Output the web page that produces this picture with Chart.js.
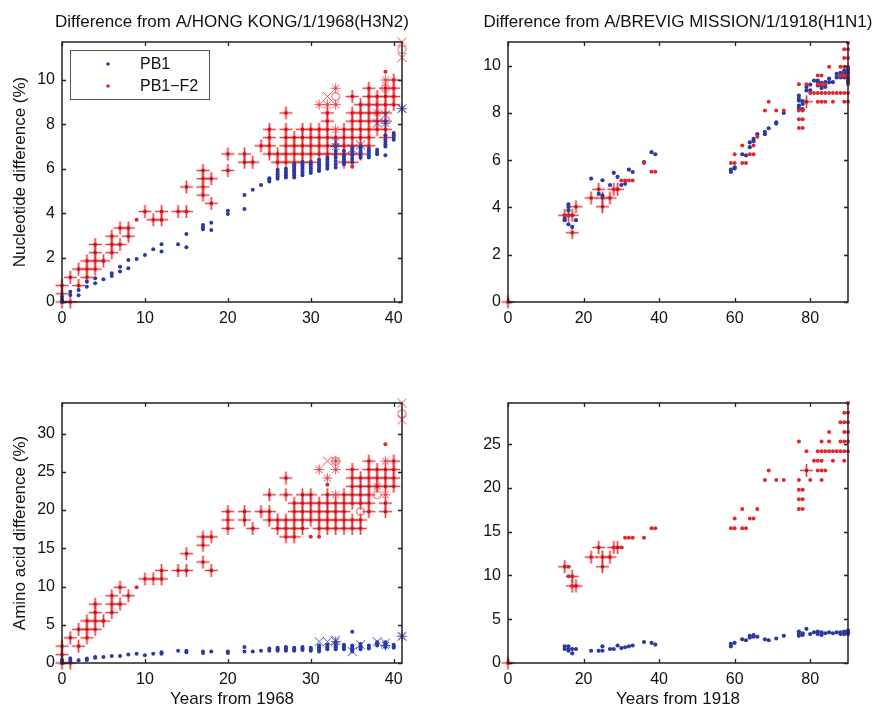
<!DOCTYPE html>
<html><head><meta charset="utf-8">
<script src="https://cdn.jsdelivr.net/npm/chart.js@4.4.1/dist/chart.umd.min.js"></script>
<style>
html,body{margin:0;padding:0;background:#fff;width:880px;height:707px;overflow:hidden;position:relative;}
canvas{position:absolute;}
</style></head><body>
<canvas id="ca" width="440" height="340" style="left:0;top:0"></canvas>
<canvas id="cb" width="440" height="340" style="left:440px;top:0"></canvas>
<canvas id="cc" width="440" height="360" style="left:0;top:360px"></canvas>
<canvas id="cd" width="440" height="360" style="left:440px;top:360px"></canvas>
<script>
// ---------- tick labels ----------
const ticksYears1968 = [0,10,20,30,40];
const ticksYears1918 = [0,20,40,60,80];
const ticksNt = [0,2,4,6,8,10];
const ticksAaH3 = [0,5,10,15,20,25,30];
const ticksAaH1 = [0,5,10,15,20,25];
const legendLabels = ['PB1','PB1\u2212F2'];

// ---------- Panel A: nucleotide, H3N2 ----------
const ntH3_PB1 = [
 [0,[0,0.1,0.24]],[1,[0.31,0.46]],[2,[0.3,0.54]],[3,[0.69,0.92]],[4,[0.84,1.07]],[5,[1.02]],
 [6,[1.17,1.29]],[7,[1.37,1.59]],[8,[1.52,1.89]],[9,[1.94]],[10,[2.12]],[11,[2.37]],
 [12,[2.27,2.6]],[14,[2.6]],[15,[2.46,3.06]],[17,[3.27,3.36,3.47]],[18,[3.24,3.57]],
 [20,[3.96,4.11]],[22,[4.19,4.82]],[23,[5.05]],[24,[5.27]],[25,[5.42,5.5,5.57]],
 [26,[5.55,5.65,5.75,5.85,5.95]],[27,[5.6,5.7,5.8,5.9,6.0]],[28,[5.6,5.7,5.8,5.9,6.0,6.1,6.2]],
 [29,[5.7,5.8,5.9,6.0,6.1,6.2,6.3]],[30,[5.8,5.9,6.0,6.1,6.2,6.3]],[31,[5.9,6.0,6.1,6.2,6.3,6.4]],
 [32,[6.0,6.1,6.2,6.3,6.4,6.5]],[33,[6.05,6.2,6.35,6.5,6.65,6.8]],[34,[6.2,6.3,6.4,6.5,6.6,6.8]],
 [35,[6.3,6.45,6.6,6.75,6.9]],[36,[6.5,6.6,6.7,6.8,6.9,7.0]],[37,[6.5,6.6,6.7,6.8,6.9]],
 [38,[6.65,6.75,6.85]],[39,[6.6,7.0,7.1,7.2,7.3,7.5]],[40,[7.3,7.4,7.5,7.6]]
];
const ntH3_F2 = [
 [0,[0,0.37,0.74]],[1,[0,1.11]],[2,[0.74,1.48]],[3,[1.11,1.48,1.85]],[4,[1.48,1.85,2.22,2.59]],[5,[1.85]],
 [6,[2.22,2.59,2.96]],[7,[2.59,3.33]],[8,[2.96,3.33]],[10,[4.07]],[11,[3.70]],[12,[3.70,4.07]],[14,[4.07]],
 [15,[4.07,5.18]],[17,[4.81,5.18,5.55,5.92]],[18,[4.44,5.55]],[20,[5.92,6.66]],[22,[6.29,6.66]],[23,[6.29]],
 [24,[7.03]],[25,[6.66,7.03,7.40,7.77]],[26,[6.29,6.66]],[27,[6.29,6.66,7.03,7.40,7.77,8.51]],
 [28,[6.29,6.66,7.03,7.40]],[29,[6.29,6.66,7.03,7.40,7.77]],[30,[6.29,6.66,7.03,7.40,7.77]],
 [31,[6.66,7.03,7.40,7.77]],[32,[6.66,7.03,7.40,7.77,8.14,8.51]],[33,[6.66,7.03,7.40]],
 [34,[6.29,6.66,7.03,7.40,7.77]],[35,[6.29,6.66,7.03,7.40,7.77,8.14,8.51,9.25]],
 [36,[6.66,7.03,7.40,7.77,8.14,8.51,8.88]],[37,[7.03,7.40,7.77,8.14,8.51,8.88,9.25,9.62]],
 [38,[7.77,8.14,8.51,8.88,9.25]],[39,[7.40,7.77,8.14,8.51,8.88,9.25,9.62]],[40,[8.88,9.25,9.62,9.99]]
];
const ntH3_F2dots = [[9,3.70],[28,5.92],[31,5.92],[39,10.36],[35,6.1]];
const ntH3_F2stars = [[31,8.88],[32,8.88],[33,8.88],[33,9.62],[33,7.77],[39,9.99],[38,8.51]];
const ntH3_F2x = [[32,9.25],[41,11.70],[41,11.0]];
const ntH3_F2o = [[33,9.25],[39,9.62],[41,11.36]];
const ntH3_PB1x = [[33,7.2],[35,6.9],[36,7.07],[38,8.05],[39,8.42],[41,8.7]];
const ntH3_PB1stars = [[39,8.05],[41,8.7],[33,7.0]];

// ---------- Panel B: nucleotide, H1N1 ----------
const ntH1_PB1 = [
 [15,[3.53,3.46]],[16,[4.13,4.02,3.88,3.29]],[17,[3.18]],[18,[3.46]],[22,[5.22]],[24,[4.58]],
 [25,[5.15,4.5]],[27,[4.95]],[28,[5.46]],[29,[5.29]],[30,[4.95]],[31,[5.0]],[32,[5.6]],[33,[5.5]],
 [36,[5.92]],[38,[6.34]],[39,[6.25]],[59,[5.5,5.6]],[60,[5.7,5.65]],[62,[6.25]],[63,[6.2]],
 [64,[6.55,6.75]],[65,[6.9,6.8]],[66,[7.1]],[68,[7.2,7.1]],[69,[7.35]],[71,[7.6,7.55]],[73,[8.0]],
 [77,[8.73,8.6,8.52,8.31,8.2]],[78,[8.38,8.16,8.5]],[79,[8.95,9.1]],[80,[8.95,9.2]],[81,[9.37]],
 [82,[9.16,9.37,9.3]],[83,[9.05,9.27,9.15]],[84,[9.1,9.3]],[85,[9.3,9.45]],[86,[9.3]],[87,[9.65,9.5]],
 [88,[9.5,9.7,9.6]],[89,[9.7,9.5,9.8,9.6]],[90,[9.8,9.6,9.3,9.5,9.7,9.9,9.4]]
];
const ntH1_F2plus = [[0,0],[15,3.67],[16,3.67],[17,3.67],[18,4.03],[17,2.93],[22,4.40],[24,4.77],[25,4.40],[25,4.03],[27,4.40],[28,4.77],[29,4.77],[79,8.47]];
const ntH1_F2 = [
 [30,[5.14]],[31,[5.14]],[32,[5.14]],[33,[5.14]],[36,[5.88]],[38,[5.51]],[39,[5.51]],
 [59,[5.88]],[60,[5.88,6.25]],[62,[6.62,5.88]],[63,[5.88]],[64,[6.25]],[65,[6.25,6.62]],[66,[6.99]],
 [68,[8.10]],[69,[8.47]],[71,[8.10]],[73,[8.10]],[77,[9.21,8.10,7.73,7.36]],[78,[8.10,7.73,7.36]],
 [79,[9.21]],[80,[8.84]],[81,[8.84]],[82,[8.47,8.84,9.21,9.58]],[83,[8.47,8.84,9.21,9.58]],
 [84,[8.47,8.84,9.21]],[85,[8.84,9.95]],[86,[8.47,8.84]],[87,[8.84]],[88,[8.84,9.58,9.95]],
 [89,[8.47,8.84,9.58,9.95,10.32,10.69]],[90,[8.47,8.84,9.21,9.58,9.95,10.32,10.69,10.96]]
];

// ---------- Panel C: amino acid, H3N2 ----------
const aaH3_PB1 = [
 [0,[0,0.1,0.4]],[1,[0.3,0.6]],[2,[0.35]],[3,[0.4,0.6]],[4,[0.7,0.8]],[5,[0.8]],[6,[0.9]],[7,[0.9]],
 [8,[1.1]],[9,[1.2]],[10,[1.0]],[11,[1.2]],[12,[1.2,1.4]],[14,[1.6]],[15,[1.4,1.6]],[17,[1.3,1.5]],
 [18,[1.5]],[20,[1.3,1.5]],[22,[1.5,2.1]],[23,[1.5]],[24,[1.6]],[25,[1.6,1.9]],[26,[1.6,1.8,2.0]],
 [27,[1.6,1.8,2.0,2.1]],[28,[1.6,1.8,2.0]],[29,[1.7,1.9,2.1]],[30,[1.6,1.8,2.0]],[31,[1.5,1.7,1.9,2.1,2.3]],
 [32,[1.8,2.0,2.2,2.4]],[33,[1.8,2.0,2.2,2.4,2.6]],[34,[1.8,2.0,2.2,2.4]],[35,[1.5,1.7,1.9,2.1,2.3,4.1]],
 [36,[1.8,2.0,2.2,2.5]],[37,[1.9,2.1,2.3]],[38,[2.3,2.5,2.7]],[39,[2.1,2.3,2.5,2.7]],[40,[2.0,2.2,2.4]]
];
const aaH3_F2 = [
 [0,[0,1.1,2.2]],[1,[0,3.3]],[2,[2.2,4.4]],[3,[3.3,4.4,5.5]],[4,[4.4,5.5,6.6,7.7]],[5,[5.5]],
 [6,[6.6,7.7,8.8]],[7,[7.7,9.9]],[8,[8.8]],[10,[11.0]],[11,[11.0]],[12,[11.0,12.1]],[14,[12.1]],
 [15,[12.1,14.3]],[17,[13.2,15.4,16.5]],[18,[12.1,16.5]],[20,[17.6,18.7,19.8]],[22,[18.7,19.8]],
 [23,[17.6]],[24,[19.8]],[25,[18.7,19.8,22.0]],[26,[17.6,18.7]],[27,[16.5,17.6,18.7,22.0,24.2]],
 [28,[16.5,17.6,18.7,19.8,20.9]],[29,[17.6,18.7,19.8,20.9,22.0]],[30,[18.7,19.8,20.9,22.0]],
 [31,[17.6,18.7,19.8,20.9]],[32,[17.6,18.7,19.8,20.9,22.0]],[33,[17.6,18.7,19.8,20.9]],
 [34,[17.6,18.7,19.8,20.9,22.0]],[35,[17.6,18.7,20.9,22.0,23.1,24.2,25.3]],
 [36,[17.6,18.7,20.9,22.0,23.1,24.2]],[37,[19.8,20.9,22.0,23.1,24.2,25.3,26.4]],
 [38,[23.1,24.2,25.3]],[39,[19.8,20.9,23.1,24.2,25.3]],[40,[23.1,24.2,25.3,26.4]]
];
const aaH3_F2dots = [[9,9.9],[30,16.5],[31,16.5],[32,23.3],[39,28.6]];
const aaH3_F2stars = [[31,25.3],[32,24.2],[33,26.4],[33,25.3],[33,22.0],[38,23.1],[39,26.4],[39,22.0]];
const aaH3_F2x = [[32,26.4],[41,34.0],[41,31.8]];
const aaH3_F2o = [[33,26.4],[36,19.8],[38,22.0],[41,32.6]];
const aaH3_PB1x = [[31,2.8],[32,2.8],[33,3.0],[35,1.5],[36,2.4],[38,2.8],[39,2.6],[41,3.5]];
const aaH3_PB1stars = [[33,2.8],[41,3.5],[39,2.3]];

// ---------- Panel D: amino acid, H1N1 ----------
const aaH1_PB1 = [
 [15,[1.9,1.6]],[16,[1.9,1.6,1.4]],[17,[1.1,1.6]],[18,[1.6]],[22,[1.4]],[24,[1.4]],[25,[1.9,1.4]],
 [27,[1.6]],[28,[1.6]],[29,[2.0]],[30,[1.7]],[31,[1.8]],[32,[1.9]],[33,[2.0]],[36,[2.4]],[38,[2.3]],
 [39,[2.1]],[59,[1.9,2.2]],[60,[2.3]],[62,[2.7]],[63,[2.6]],[64,[3.1,2.9]],[65,[3.2,3.0]],[66,[3.0]],
 [68,[2.7]],[69,[2.6]],[71,[2.8]],[73,[3.1]],[77,[3.6,3.3,3.1]],[78,[3.4,3.2]],[79,[3.9]],[80,[3.3]],
 [81,[3.5]],[82,[3.6,3.3]],[83,[3.5,3.2]],[84,[3.4]],[85,[3.5]],[86,[3.4]],[87,[3.5]],[88,[3.5,3.3]],
 [89,[3.6,3.3]],[90,[3.5,3.3,3.7]]
];
const aaH1_F2plus = [[0,0],[15,11.0],[17,9.9],[17,8.8],[18,8.8],[22,12.1],[24,13.2],[25,12.1],[25,11.0],[27,12.1],[28,13.2],[29,13.2],[79,22.0]];
const aaH1_F2 = [
 [16,[11.0,9.9]],[30,[13.2]],[31,[14.3]],[32,[14.3]],[33,[14.3]],[36,[14.3]],[38,[15.4]],[39,[15.4]],
 [59,[15.4]],[60,[15.4,16.5]],[62,[17.6,15.4]],[63,[15.4]],[64,[16.5]],[65,[16.5]],[66,[17.6]],
 [68,[20.9]],[69,[22.0]],[71,[20.9]],[73,[20.9]],[77,[25.3,20.9,19.8,18.7,17.6]],[78,[19.8,18.7,17.6]],
 [79,[24.2]],[80,[20.9]],[81,[23.1]],[82,[22.0,23.1,24.2]],[83,[20.9,22.0,23.1,24.2,25.3]],
 [84,[22.0,24.2]],[85,[24.2,25.3,26.4]],[86,[23.1,24.2]],[87,[24.2]],[88,[24.2,25.3,27.5]],
 [89,[23.1,24.2,25.3,26.4,27.5,28.6]],[90,[24.2,25.3,26.4,27.5,28.6,29.7]]
];

// ---------- helpers ----------
const FONT = '"Liberation Sans", Arial, Helvetica, sans-serif';
const RED = '#e4262b', BLUE = '#2b3a9e';
function expand(groups){ const out=[]; groups.forEach(([x,ys])=>ys.forEach(y=>out.push({x,y}))); return out; }
function pairs(arr){ return arr.map(([x,y])=>({x,y})); }
function mk(size, draw){ const c=document.createElement('canvas'); c.width=c.height=size; const g=c.getContext('2d'); draw(g,size/2); return c; }
const plusImg = mk(15,(g,c)=>{ g.strokeStyle='rgba(232,40,45,0.9)'; g.lineWidth=1.7; g.beginPath(); g.moveTo(1,c); g.lineTo(14,c); g.moveTo(c,1); g.lineTo(c,14); g.stroke(); g.fillStyle='#c4121a'; g.beginPath(); g.arc(c,c,1.9,0,Math.PI*2); g.fill(); });
function starImg(col){ return mk(13,(g,c)=>{ g.strokeStyle=col; g.lineWidth=1; g.beginPath(); for(let k=0;k<4;k++){ const a=k*Math.PI/4; g.moveTo(c-5*Math.cos(a),c-5*Math.sin(a)); g.lineTo(c+5*Math.cos(a),c+5*Math.sin(a)); } g.stroke(); }); }
function xImg(col){ return mk(13,(g,c)=>{ g.strokeStyle=col; g.lineWidth=1; g.beginPath(); g.moveTo(c-4.5,c-4.5); g.lineTo(c+4.5,c+4.5); g.moveTo(c+4.5,c-4.5); g.lineTo(c-4.5,c+4.5); g.stroke(); }); }
const oImg = mk(13,(g,c)=>{ g.strokeStyle='rgba(225,50,55,0.85)'; g.lineWidth=1; g.beginPath(); g.arc(c,c,4,0,Math.PI*2); g.stroke(); });
const redStar = starImg('rgba(225,50,55,0.85)'), redX = xImg('rgba(225,50,55,0.9)');
const blueStar = starImg('rgba(50,60,170,0.9)'), blueX = xImg('rgba(50,60,170,0.9)');

function ds(data, style, order, r){
  const base = {data, clip:false, order, pointBorderWidth:0, pointHoverRadius:0};
  if (style==='blue') return Object.assign(base,{pointStyle:'circle',pointRadius:r||2,pointBackgroundColor:BLUE});
  if (style==='red') return Object.assign(base,{pointStyle:'circle',pointRadius:r||2,pointBackgroundColor:RED});
  return Object.assign(base,{pointStyle:style,pointRadius:6});
}

const boxPlugin = {
  id:'boxTicks',
  afterDatasetsDraw(chart){
    const a=chart.chartArea, ctx=chart.ctx, xs=chart.scales.x, ys=chart.scales.y, L=4;
    ctx.save(); ctx.strokeStyle='#222'; ctx.lineWidth=1.3;
    ctx.beginPath();
    xs.ticks.forEach(t=>{ const p=Math.round(xs.getPixelForValue(t.value))+0.5; ctx.moveTo(p,a.bottom); ctx.lineTo(p,a.bottom-L); ctx.moveTo(p,a.top); ctx.lineTo(p,a.top+L); });
    ys.ticks.forEach(t=>{ const p=Math.round(ys.getPixelForValue(t.value))+0.5; ctx.moveTo(a.left,p); ctx.lineTo(a.left+L,p); ctx.moveTo(a.right,p); ctx.lineTo(a.right-L,p); });
    ctx.stroke();
    ctx.lineWidth=1.5; ctx.strokeRect(a.left,a.top,a.right-a.left,a.bottom-a.top);
    ctx.restore();
  }
};
const titlePlugin = {
  id:'panelTitle',
  afterDraw(chart, args, opts){
    if(!opts || !opts.text) return;
    const a=chart.chartArea, ctx=chart.ctx;
    ctx.save(); ctx.fillStyle='#111'; ctx.font='17px '+FONT; ctx.textAlign='center'; ctx.textBaseline='middle';
    ctx.fillText(opts.text,(a.left+a.right)/2,22);
    ctx.restore();
  }
};
const legendPlugin = {
  id:'boxLegend',
  afterDraw(chart){
    const a=chart.chartArea, ctx=chart.ctx; const x=a.left+8, y=a.top+8, w=139, h=49;
    ctx.save(); ctx.fillStyle='#fff'; ctx.fillRect(x,y,w,h);
    ctx.strokeStyle='#555'; ctx.lineWidth=1; ctx.strokeRect(x+0.5,y+0.5,w,h);
    const cols=[BLUE,RED];
    legendLabels.forEach((lab,i)=>{
      const cy=y+14+i*22;
      ctx.fillStyle=cols[i]; ctx.beginPath(); ctx.arc(x+38,cy,1.8,0,Math.PI*2); ctx.fill();
      ctx.fillStyle='#111'; ctx.font='16px '+FONT; ctx.textBaseline='middle'; ctx.textAlign='left';
      ctx.fillText(lab,x+70,cy+1);
    });
    ctx.restore();
  }
};

function makeChart(id, o){
  const tickFont={family:FONT,size:16};
  const plugins=[boxPlugin,titlePlugin]; if(o.legend) plugins.push(legendPlugin);
  return new Chart(document.getElementById(id),{
    type:'scatter',
    data:{datasets:o.datasets},
    options:{
      responsive:false, animation:false, events:[],
      layout:{padding:{left:0,right:o.W-o.right,top:o.top,bottom:0}},
      plugins:{
        legend:{display:false}, tooltip:{enabled:false}, title:{display:false},
        panelTitle:{text:o.title||''}
      },
      scales:{
        x:{type:'linear',min:0,max:o.xMax,
           afterBuildTicks:s=>{s.ticks=o.xTicks.map(v=>({value:v}));},
           afterFit:s=>{s.height=o.H-o.bottom;},
           grid:{display:false,drawTicks:false}, border:{display:false},
           ticks:{color:'#111',font:tickFont,padding:7,maxRotation:0,autoSkip:false},
           title:o.xTitle?{display:true,text:o.xTitle,color:'#111',font:{family:FONT,size:17,lineHeight:1.2},padding:{top:0,bottom:10.8}}:{display:false}},
        y:{type:'linear',min:0,max:o.yMax,
           afterBuildTicks:s=>{s.ticks=o.yTicks.map(v=>({value:v}));},
           afterFit:s=>{s.width=o.left;},
           grid:{display:false,drawTicks:false}, border:{display:false},
           ticks:{color:'#111',font:tickFont,padding:7,autoSkip:false},
           title:o.yTitle?{display:true,text:o.yTitle,color:'#111',font:{family:FONT,size:17,lineHeight:1.2},padding:{top:10,bottom:0}}:{display:false}}
      }
    },
    plugins
  });
}

makeChart('ca',{W:440,H:340,left:62,right:402,top:42,bottom:302,xMax:41,yMax:11.7,xTicks:ticksYears1968,yTicks:ticksNt,
  title:'Difference from A/HONG KONG/1/1968(H3N2)',yTitle:'Nucleotide difference (%)',legend:true,
  datasets:[ds(expand(ntH3_PB1),'blue',0),ds(pairs(ntH3_PB1x),blueX,1),ds(pairs(ntH3_PB1stars),blueStar,1),
    ds(pairs(ntH3_F2dots),'red',2),ds(expand(ntH3_F2),plusImg,3),ds(pairs(ntH3_F2stars),redStar,3),ds(pairs(ntH3_F2x),redX,3),ds(pairs(ntH3_F2o),oImg,3)]});

makeChart('cb',{W:440,H:340,left:68,right:408,top:42,bottom:302,xMax:90,yMax:11,xTicks:ticksYears1918,yTicks:ticksNt,
  title:'Difference from A/BREVIG MISSION/1/1918(H1N1)',
  datasets:[ds(expand(ntH1_PB1),'blue',1,2.1),ds(expand(ntH1_F2),'red',0,2),ds(pairs(ntH1_F2plus),plusImg,2)]});

makeChart('cc',{W:440,H:360,left:62,right:402,top:43,bottom:303,xMax:41,yMax:34,xTicks:ticksYears1968,yTicks:ticksAaH3,
  yTitle:'Amino acid difference (%)',xTitle:'Years from 1968',
  datasets:[ds(expand(aaH3_PB1),'blue',0),ds(pairs(aaH3_PB1x),blueX,1),ds(pairs(aaH3_PB1stars),blueStar,1),
    ds(pairs(aaH3_F2dots),'red',2),ds(expand(aaH3_F2),plusImg,3),ds(pairs(aaH3_F2stars),redStar,3),ds(pairs(aaH3_F2x),redX,3),ds(pairs(aaH3_F2o),oImg,3)]});

makeChart('cd',{W:440,H:360,left:68,right:408,top:43,bottom:303,xMax:90,yMax:29.7,xTicks:ticksYears1918,yTicks:ticksAaH1,
  xTitle:'Years from 1918',
  datasets:[ds(expand(aaH1_PB1),'blue',1,2.1),ds(expand(aaH1_F2),'red',0,2),ds(pairs(aaH1_F2plus),plusImg,2)]});
</script>
</body></html>
